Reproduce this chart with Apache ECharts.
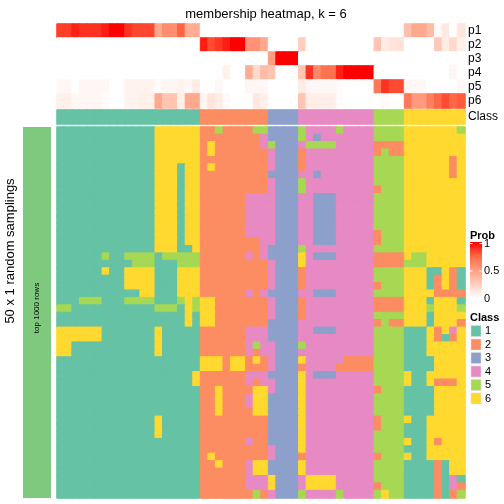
<!DOCTYPE html>
<html><head><meta charset="utf-8">
<script src="https://cdn.jsdelivr.net/npm/echarts@6/dist/echarts.min.js"></script>
<style>html,body{margin:0;padding:0;background:#fff}#c{width:504px;height:504px}</style>
</head><body><div id="c"></div>
<script>
const FONT = '"Liberation Sans", Arial, Helvetica, sans-serif';
const rowNames = ['p1','p2','p3','p4','p5','p6'];
const p1 = [0.85,0.85,0.92,0.88,0.88,0.88,0.93,1,1,0.88,0.83,0.83,0.83,0.45,0.58,0.58,0.76,0.43,0.43,
  0,0,0,0,0,0,0,0,0, 0,0,0,0, 0,0,0,0,0,0,0,0,0,0, 0,0,0,0, 0.33,0.45,0.45,0.35,0.03,0.12,0,0.13];
const p2 = [0,0,0,0,0,0,0,0,0,0,0,0,0,0,0,0,0,0,0,
  0.93,0.82,0.87,0.93,1,1,0.55,0.55,0.45, 0,0,0,0, 0.25,0,0,0,0,0,0,0,0,0, 0.3,0.1,0.15,0.15, 0,0,0,0,0.28,0.1,0.2,0.08];
const p3 = [0,0,0,0,0,0,0,0,0,0,0,0,0,0,0,0,0,0,0,
  0,0,0,0,0,0,0,0,0, 0.5,1,1,1, 0,0,0,0,0,0,0,0,0,0, 0,0,0,0, 0,0,0,0,0,0,0,0];
const p4 = [0,0,0,0,0,0,0,0,0,0,0,0,0,0,0,0,0,0,0,
  0,0,0,0.07,0,0,0.42,0.2,0.35, 0.3,0,0,0, 0.3,0.88,0.6,0.7,0.7,0.92,1,1,1,1, 0,0,0,0, 0,0,0,0,0,0,0.05,0];
const p5 = [0.04,0.04,0,0.04,0.04,0.04,0.04,0,0,0.06,0.06,0.06,0.06,0.02,0.05,0.05,0.06,0.04,0.1,
  0,0,0.04,0,0,0,0.05,0.04,0.04, 0,0,0,0, 0.1,0.04,0.04,0.04,0.04,0.02,0,0,0,0, 0.68,0.88,0.82,0.82, 0.04,0.04,0.04,0,0,0,0,0.04];
const p6 = [0.08,0.08,0.04,0.04,0.04,0.04,0.02,0,0,0.06,0.06,0.08,0.08,0.45,0.3,0.3,0.08,0.45,0.45,
  0.05,0.14,0.1,0.03,0,0,0,0.12,0.08, 0,0,0,0, 0.3,0.09,0.09,0.09,0.09,0.02,0,0,0,0, 0,0.02,0,0, 0.68,0.52,0.52,0.65,0.75,0.82,0.75,0.78];
const sampleClass = [1,1,1,1,1,1,1,1,1,1,1,1,1,1,1,1,1,1,1, 2,2,2,2,2,2,2,2,2, 3,3,3,3, 4,4,4,4,4,4,4,4,4,4, 5,5,5,5, 6,6,6,6,6,6,6,6];
// 50 random samplings x 54 samples; digit = predicted class
const samplingRows = [
 "1111111111111666666 225222255 3333 5444454444 5555 66666665",
 "1111111111111666666 222222224 3333 5434444444 5555 66666666",
 "1111111111111666666 262222224 5333 4555544444 2222 66666666",
 "1111111111111666666 262222222 4333 2444444444 2522 66666666",
 "1111111111111666666 222222222 4333 2444444444 5555 66666626",
 "1111111111111666166 262222222 4333 2444444444 5555 66666626",
 "1111111111111666166 222222222 3333 4434444444 5555 66666626",
 "1111111111111666166 222222222 4333 5444444444 5555 66666666",
 "1111111111111666166 222222222 4333 5444444444 2555 66666666",
 "1111111111111666166 222222444 4333 4433344444 5555 66666666",
 "1111111111111666166 222222444 4333 4433344444 5555 66666666",
 "1111111111111666166 222222444 4333 4433344444 5555 66666666",
 "1111111111111666166 222222444 4333 4433344444 5555 66666666",
 "1111111111111666166 222222444 4333 4433344444 5555 66666666",
 "1111111111111666166 222222444 4333 4433344444 2555 66666666",
 "1111111111111666166 222222224 4333 4433344444 2555 66666666",
 "1111111111111666116 222222224 3333 5444444444 5555 66666666",
 "1111115115555155555 222222424 3333 6433344444 2222 65566666",
 "1111111111555111555 222222222 4333 6444444444 2222 55566666",
 "1111116116666111666 222222222 4333 2444444444 5555 66611621",
 "1111111116666111666 222222222 4333 2444444444 5555 66612621",
 "1111111116666111666 222222222 4333 2444444444 2555 66612621",
 "1111111111166111666 222222424 3333 4433344444 5555 66662222",
 "1115551115555111565 662222222 4333 2444444444 2222 66616661",
 "5511111111111555165 662222222 4333 2444444444 2222 66656665",
 "1111111111111111161 662222222 4333 2444444444 5555 66616666",
 "1111111111111111161 662222222 3333 4444444444 2522 66616662",
 "6666661111111611111 222222444 3333 4433344444 5555 11162646",
 "6666661111111611111 222222444 3333 4444444444 5555 11162126",
 "6611111111111611111 222222454 4333 5444444444 5555 11166666",
 "6611111111111611111 222222424 4333 4444444444 5555 11166666",
 "1111111111111111111 666266262 4333 6444442222 5555 11116666",
 "1111111111111111111 666266222 4333 2444422222 5555 11116666",
 "1111111111111111116 222222444 3333 6433344444 5555 61166666",
 "1111111111111111116 222222424 4333 6444444444 5555 61162226",
 "1111111111111111111 226222266 4333 6444444444 2555 11116666",
 "1111111111111111111 226222466 3333 6444444444 5555 11116666",
 "1111111111111111111 226222466 3333 6444444444 5555 11116666",
 "1111111111111111111 226222266 3333 6444444444 5555 11116666",
 "1111111111111611111 222222222 3333 6444444444 2555 61166666",
 "1111111111111611111 222222222 3333 6444444444 2555 11166666",
 "1111111111111611111 222222222 3333 6444444444 5555 11166666",
 "1111111111111111111 222222422 3333 6444444444 5555 61162666",
 "1111111111111111111 222222222 4333 6444444444 5555 11166666",
 "1111111111111111111 262222222 4333 2444444444 2555 61166666",
 "1111111111111111111 226222466 3333 6444444444 5555 11112166",
 "1111111111111111111 222222466 3333 6444444444 5555 11112166",
 "1111111111111111111 222222444 6333 4666644444 5555 11112141",
 "1111111111111111111 222222444 6333 4666644444 2555 11112142",
 "1111111111111111111 222222252 4333 5444454444 5655 11112125"
];
const classLabels = ['1','2','3','4','5','6'];
const classColors = ['#66C2A5','#FC8D62','#8DA0CB','#E78AC3','#A6D854','#FFD92F'];
const probTickLabels = ['1','0.5','0'];
const probColors = ['#FFFFFF','#FFCFBE','#FF9E81','#FF6846','#FF0000'];

const probs = [p1,p2,p3,p4,p5,p6];
const nCol = sampleClass.length;
const sampleIds = sampleClass.map((_, i) => 'S' + (i + 1));
const rowIds = samplingRows.map((_, i) => 'R' + (i + 1));
// cell borders in the cell's own colour hide anti-aliasing seams between cells
const seam = c => ({borderColor: c, borderWidth: 1});
const memData = [];
probs.forEach((arr, r) => arr.forEach((v, c) =>
  memData.push({value: [c, r, v], itemStyle: seam(echarts.color.lerp(v, probColors))})));
const classData = sampleClass.map((v, c) => ({value: [c, 0, v], itemStyle: seam(classColors[v - 1])}));
const mainData = [];
samplingRows.forEach((s, r) => {
  const t = s.replace(/ /g, '');
  for (let c = 0; c < nCol; c++) {
    const v = +t[c];
    mainData.push({value: [c, r, v], itemStyle: seam(classColors[v - 1])});
  }
});

const chart = echarts.init(document.getElementById('c'), null, {renderer: 'canvas'});
const lab = {margin: 3, fontSize: 12, color: '#000', fontFamily: FONT, interval: 0};
const graphics = [
  {type: 'rect', shape: {x: 23, y: 127, width: 28, height: 371}, style: {fill: '#7FC97F'}},
  {type: 'text', x: 10, y: 251, rotation: Math.PI / 2,
   style: {text: '50 x 1 random samplings', fontSize: 13, fontFamily: FONT, fill: '#000', align: 'center', verticalAlign: 'middle'}},
  {type: 'text', x: 37, y: 308, rotation: Math.PI / 2,
   style: {text: 'top 1000 rows', fontSize: 8, fontFamily: FONT, fill: '#000', align: 'center', verticalAlign: 'middle'}},
  {type: 'text', x: 470, y: 236, style: {text: 'Prob', fontSize: 11, fontWeight: 'bold', fontFamily: FONT, fill: '#000', align: 'left', verticalAlign: 'middle'}},
  {type: 'rect', shape: {x: 470, y: 242, width: 12, height: 56},
   style: {fill: new echarts.graphic.LinearGradient(0, 1, 0, 0, probColors.map((c, i) => ({offset: i / (probColors.length - 1), color: c})))}},
  {type: 'text', x: 470, y: 318, style: {text: 'Class', fontSize: 11, fontWeight: 'bold', fontFamily: FONT, fill: '#000', align: 'left', verticalAlign: 'middle'}}
];
probTickLabels.forEach((t, i) => {
  const y = 243.5 + i * 27.5;
  graphics.push({type: 'text', x: 484, y: y, style: {text: t, fontSize: 11, fontFamily: FONT, fill: '#000', align: 'left', verticalAlign: 'middle'}});
  if (i < 2) {
    graphics.push({type: 'line', shape: {x1: 470, y1: y, x2: 472.5, y2: y}, style: {stroke: '#fff', lineWidth: 1}});
    graphics.push({type: 'line', shape: {x1: 479.5, y1: y, x2: 482, y2: y}, style: {stroke: '#fff', lineWidth: 1}});
  }
});
classLabels.forEach((t, i) => {
  const y = 325.5 + i * 13.5;
  graphics.push({type: 'rect', shape: {x: 471, y: y, width: 10, height: 11}, style: {fill: classColors[i], stroke: '#ddd', lineWidth: 0.5}});
  graphics.push({type: 'text', x: 485, y: y + 5.5, style: {text: t, fontSize: 11, fontFamily: FONT, fill: '#000', align: 'left', verticalAlign: 'middle'}});
});

chart.setOption({
  animation: false,
  backgroundColor: '#fff',
  title: {text: 'membership heatmap, k = 6', left: 261, top: 3, textAlign: 'center',
    textStyle: {fontSize: 13, fontWeight: 'normal', color: '#000', fontFamily: FONT}},
  grid: [
    {left: 57, top: 24, width: 408, height: 84},
    {left: 57, top: 110, width: 408, height: 14},
    {left: 57, top: 127, width: 408, height: 371}
  ],
  xAxis: [0, 1, 2].map(i => ({type: 'category', gridIndex: i, data: sampleIds, show: false})),
  yAxis: [
    {type: 'category', gridIndex: 0, data: rowNames, inverse: true, position: 'right',
     axisLine: {show: false}, axisTick: {show: false}, splitLine: {show: false}, axisLabel: lab},
    {type: 'category', gridIndex: 1, data: ['Class'], position: 'right',
     axisLine: {show: false}, axisTick: {show: false}, splitLine: {show: false}, axisLabel: lab},
    {type: 'category', gridIndex: 2, data: rowIds, inverse: true, show: false}
  ],
  visualMap: [
    {type: 'continuous', seriesIndex: 0, min: 0, max: 1, show: false, inRange: {color: probColors}},
    {type: 'piecewise', seriesIndex: [1, 2], show: false,
     pieces: classColors.map((c, i) => ({value: i + 1, color: c}))}
  ],
  series: [
    {type: 'heatmap', xAxisIndex: 0, yAxisIndex: 0, data: memData, silent: true},
    {type: 'heatmap', xAxisIndex: 1, yAxisIndex: 1, data: classData, silent: true},
    {type: 'heatmap', xAxisIndex: 2, yAxisIndex: 2, data: mainData, silent: true}
  ],
  graphic: graphics
});
</script>
</body></html>
